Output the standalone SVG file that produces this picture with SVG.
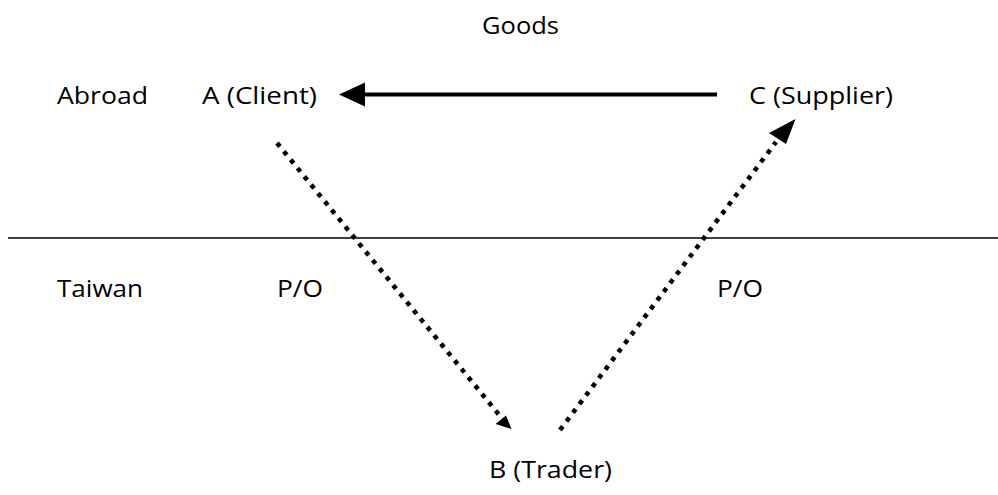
<svg xmlns="http://www.w3.org/2000/svg" width="998" height="495" viewBox="0 0 998 495">
<style>
text{font-family:"Open Sans","Liberation Sans",sans-serif;font-size:24px;fill:#000;}
.dot{stroke:#000;stroke-width:4.6;stroke-dasharray:4.6 6.2;fill:none;}
.solid{stroke:#000;stroke-width:4;fill:none;}
.head{fill:#000;stroke:none;}
</style>
<rect width="998" height="495" fill="#fff"/>
<line x1="8" y1="238" x2="998" y2="238" stroke="#000" stroke-width="1.6"/>
<g id="labels">
<text x="482" y="34" textLength="77" lengthAdjust="spacingAndGlyphs">Goods</text>
<text x="57" y="104" textLength="91" lengthAdjust="spacingAndGlyphs">Abroad</text>
<text x="57" y="297" textLength="86" lengthAdjust="spacingAndGlyphs">Taiwan</text>
<text x="277" y="297" textLength="46" lengthAdjust="spacingAndGlyphs">P/O</text>
<text x="717" y="297" textLength="46" lengthAdjust="spacingAndGlyphs">P/O</text>
</g>
<g id="nodeA"><text x="202" y="104" textLength="115" lengthAdjust="spacingAndGlyphs">A (Client)</text></g>
<g id="nodeC"><text x="749" y="104" textLength="144" lengthAdjust="spacingAndGlyphs">C (Supplier)</text></g>
<g id="nodeB"><text x="489" y="478" textLength="123" lengthAdjust="spacingAndGlyphs">B (Trader)</text></g>
<g id="connectors">
<line class="solid" x1="717" y1="94.5" x2="360" y2="94.5"/>
<polygon class="head" points="339,94.5 365,82.5 365,106.5"/>
<line class="dot" x1="277" y1="143" x2="500" y2="416"/>
<polygon class="head" points="511.5,429 495.5,424 506,415.5"/>
<line class="dot" x1="560" y1="430" x2="776" y2="142"/>
<polygon class="head" points="795.5,119 769,133 786,144"/>
</g>
</svg>
